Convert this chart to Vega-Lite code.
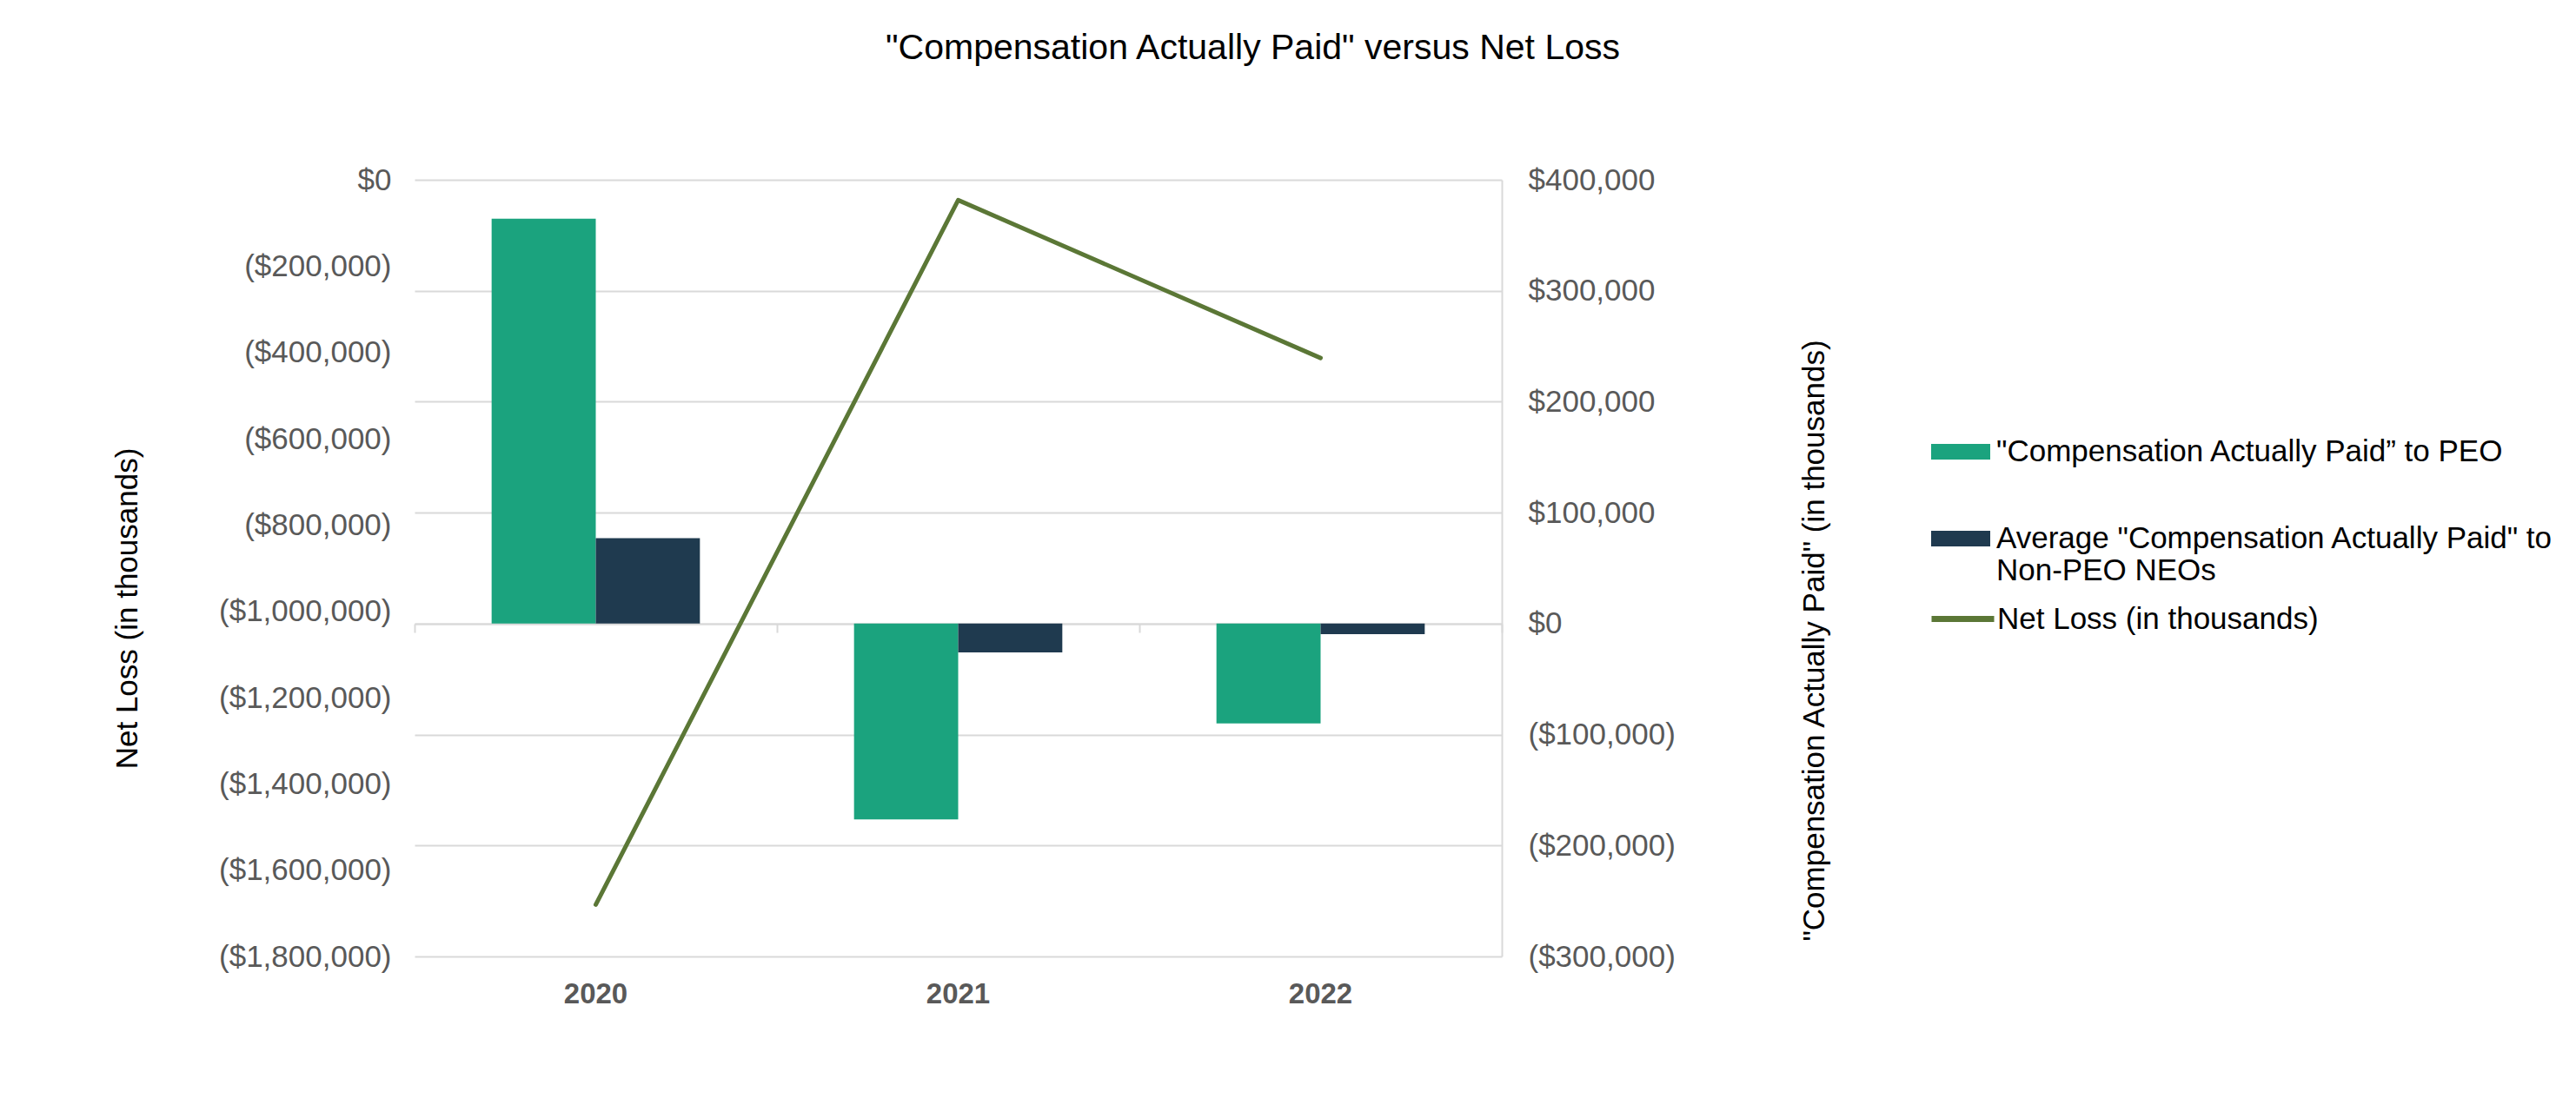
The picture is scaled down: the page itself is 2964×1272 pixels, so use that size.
{
  "$schema": "https://vega.github.io/schema/vega-lite/v6.json",
  "width": 1251,
  "height": 894,
  "autosize": {"type": "none"},
  "padding": {"left": 477, "top": 207, "right": 1236, "bottom": 171},
  "background": "white",
  "config": {"font": "Liberation Sans", "view": {"stroke": null}},
  "title": {
    "text": "\"Compensation Actually Paid\" versus Net Loss",
    "fontSize": 41,
    "fontWeight": "normal",
    "color": "#000000",
    "anchor": "middle",
    "frame": "group",
    "baseline": "alphabetic",
    "dx": 339,
    "offset": 81
  },
  "datasets": {
    "bars": [
      {"year": "2020", "series": "\"Compensation Actually Paid” to PEO", "value": 365000},
      {"year": "2020", "series": "Average \"Compensation Actually Paid\" to Non-PEO NEOs", "value": 77000},
      {"year": "2021", "series": "\"Compensation Actually Paid” to PEO", "value": -176500},
      {"year": "2021", "series": "Average \"Compensation Actually Paid\" to Non-PEO NEOs", "value": -26000},
      {"year": "2022", "series": "\"Compensation Actually Paid” to PEO", "value": -90000},
      {"year": "2022", "series": "Average \"Compensation Actually Paid\" to Non-PEO NEOs", "value": -9500}
    ],
    "line": [
      {"year": "2020", "series": "Net Loss (in thousands)", "value": -1680000},
      {"year": "2021", "series": "Net Loss (in thousands)", "value": -47000},
      {"year": "2022", "series": "Net Loss (in thousands)", "value": -413000}
    ]
  },
  "layer": [
    {
      "data": {"name": "bars"},
      "mark": {"type": "bar"},
      "encoding": {
        "x": {
          "field": "year",
          "type": "nominal",
          "sort": ["2020", "2021", "2022"],
          "scale": {"paddingInner": 0, "paddingOuter": 0},
          "axis": {
            "orient": "bottom",
            "title": null,
            "domain": false,
            "ticks": false,
            "grid": false,
            "labelAngle": 0,
            "labelFontSize": 33,
            "labelFontWeight": "bold",
            "labelColor": "#595959",
            "labelBaseline": "top",
            "labelPadding": 27
          }
        },
        "xOffset": {
          "field": "series",
          "type": "nominal",
          "scale": {
            "domain": ["\"Compensation Actually Paid” to PEO", "Average \"Compensation Actually Paid\" to Non-PEO NEOs"],
            "paddingInner": 0,
            "paddingOuter": 0.74
          }
        },
        "y": {
          "field": "value",
          "type": "quantitative",
          "scale": {"domain": [-300000, 400000], "nice": false, "zero": false},
          "axis": {
            "orient": "right",
            "values": [-300000, -200000, -100000, 0, 100000, 200000, 300000, 400000],
            "labelExpr": "datum.value < 0 ? '($' + format(-datum.value, ',') + ')' : '$' + format(datum.value, ',')",
            "labelFontSize": 35,
            "labelColor": "#595959",
            "labelPadding": 30,
            "labelLimit": 400,
            "ticks": false,
            "domain": true,
            "domainColor": "#d9d9d9",
            "domainWidth": 2,
            "grid": true,
            "gridColor": "#d9d9d9",
            "gridWidth": 2,
            "title": "\"Compensation Actually Paid\" (in thousands)",
            "titleFontSize": 35,
            "titleFontWeight": "normal",
            "titleColor": "#000000",
            "titleAngle": -90,
            "titleAlign": "center",
            "titleBaseline": "middle",
            "titleX": 359,
            "titleY": 530
          }
        },
        "fill": {
          "field": "series",
          "type": "nominal",
          "scale": {
            "domain": ["\"Compensation Actually Paid” to PEO", "Average \"Compensation Actually Paid\" to Non-PEO NEOs"],
            "range": ["#1BA37E", "#1F3A4F"]
          },
          "legend": {
            "orient": "none",
            "legendX": 1745,
            "legendY": 279,
            "title": null,
            "symbolType": "M-1,-0.265L1,-0.265L1,0.265L-1,0.265Z",
            "symbolSize": 4624,
            "symbolStrokeWidth": 0,
            "labelFontSize": 35,
            "labelColor": "#000000",
            "labelLimit": 2000,
            "labelOffset": 7,
            "rowPadding": 48,
            "labelExpr": "indexof(datum.label, 'Average') == 0 ? ['Average \"Compensation Actually Paid\" to', 'Non-PEO NEOs'] : datum.label"
          }
        }
      }
    },
    {
      "data": {"name": "line"},
      "mark": {"type": "line", "strokeWidth": 5, "strokeCap": "round", "strokeJoin": "round"},
      "encoding": {
        "x": {
          "field": "year",
          "type": "nominal",
          "sort": ["2020", "2021", "2022"],
          "axis": {
            "orient": "bottom",
            "offset": -383,
            "title": null,
            "labels": false,
            "grid": false,
            "domain": true,
            "domainColor": "#d9d9d9",
            "domainWidth": 2,
            "ticks": true,
            "tickBand": "extent",
            "tickColor": "#d9d9d9",
            "tickWidth": 2,
            "tickSize": 10
          }
        },
        "y": {
          "field": "value",
          "type": "quantitative",
          "scale": {"domain": [-1800000, 0], "nice": false, "zero": false},
          "axis": {
            "orient": "left",
            "values": [-1800000, -1600000, -1400000, -1200000, -1000000, -800000, -600000, -400000, -200000, 0],
            "labelExpr": "datum.value < 0 ? '($' + format(-datum.value, ',') + ')' : '$' + format(datum.value, ',')",
            "labelFontSize": 35,
            "labelColor": "#595959",
            "labelPadding": 27,
            "labelLimit": 400,
            "ticks": false,
            "domain": false,
            "grid": false,
            "title": "Net Loss (in thousands)",
            "titleFontSize": 35,
            "titleFontWeight": "normal",
            "titleColor": "#000000",
            "titleAngle": -90,
            "titleAlign": "center",
            "titleBaseline": "middle",
            "titleX": -331,
            "titleY": 493
          }
        },
        "stroke": {
          "field": "series",
          "type": "nominal",
          "scale": {"range": ["#5B7736"]},
          "legend": {
            "orient": "none",
            "legendX": 1742,
            "legendY": 466,
            "title": null,
            "symbolType": "stroke",
            "symbolSize": 5184,
            "symbolStrokeWidth": 7,
            "labelFontSize": 35,
            "labelColor": "#000000",
            "labelLimit": 2000,
            "labelOffset": 0
          }
        }
      }
    }
  ],
  "resolve": {"scale": {"y": "independent"}, "axis": {"x": "independent"}}
}
